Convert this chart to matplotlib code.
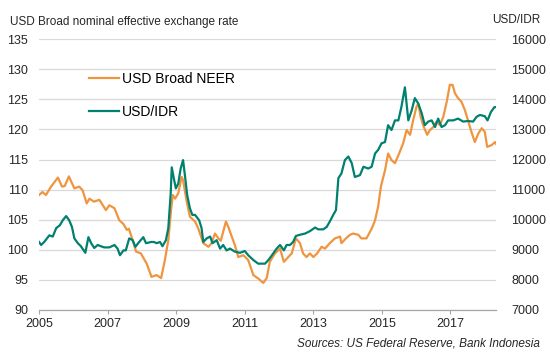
import numpy as np
import matplotlib
matplotlib.use("Agg")
import matplotlib.pyplot as plt

plt.rcParams["font.family"] = ["Liberation Sans", "DejaVu Sans"]

# USD Broad NEER (left axis)
neer_dates = [2005.0, 2005.1, 2005.2, 2005.35, 2005.55, 2005.67, 2005.75, 2005.87, 2006.03, 2006.17,
              2006.27, 2006.39, 2006.47, 2006.6, 2006.76, 2006.95, 2007.05, 2007.2, 2007.34, 2007.46,
              2007.56, 2007.62, 2007.73, 2007.83, 2007.97, 2008.14, 2008.28, 2008.43, 2008.56, 2008.67,
              2008.77, 2008.85, 2008.9, 2008.97, 2009.06, 2009.16, 2009.2, 2009.3, 2009.4, 2009.55,
              2009.64, 2009.79, 2009.94, 2010.03, 2010.13, 2010.23, 2010.3, 2010.45, 2010.52, 2010.62,
              2010.71, 2010.81, 2010.96, 2011.1, 2011.25, 2011.4, 2011.54, 2011.64, 2011.73, 2011.88,
              2012.03, 2012.14, 2012.27, 2012.37, 2012.49, 2012.61, 2012.7, 2012.8, 2012.9, 2013.0,
              2013.11, 2013.24, 2013.34, 2013.48, 2013.63, 2013.78, 2013.82, 2013.95, 2014.07, 2014.16,
              2014.31, 2014.4, 2014.55, 2014.7, 2014.8, 2014.89, 2014.97, 2015.09, 2015.18, 2015.28,
              2015.38, 2015.48, 2015.62, 2015.72, 2015.82, 2015.91, 2016.01, 2016.06, 2016.13, 2016.2,
              2016.32, 2016.4, 2016.5, 2016.59, 2016.69, 2016.79, 2016.89, 2016.98, 2017.06, 2017.13,
              2017.22, 2017.32, 2017.42, 2017.51, 2017.61, 2017.71, 2017.81, 2017.91, 2018.0, 2018.07,
              2018.2, 2018.3, 2018.33]
neer = [109.1, 109.6, 109.1, 110.5, 112.0, 110.5, 110.6, 112.2, 110.2, 110.5,
        109.9, 107.7, 108.5, 108.0, 108.3, 106.6, 107.4, 106.9, 104.9, 104.3,
        103.3, 103.5, 101.6, 99.7, 99.4, 97.7, 95.5, 95.8, 95.3, 98.3,
        101.6, 106.6, 109.1, 108.5, 109.4, 112.1, 111.6, 108.2, 105.5, 104.7,
        103.6, 101.1, 100.5, 101.1, 102.7, 101.9, 101.5, 104.7, 103.8, 102.2,
        100.8, 98.8, 99.1, 98.3, 95.8, 95.2, 94.5, 95.3, 98.0, 99.4,
        100.2, 98.0, 98.8, 99.4, 101.9, 101.1, 99.4, 98.8, 99.4, 98.8,
        99.4, 100.5, 100.2, 101.1, 101.9, 102.2, 101.1, 101.9, 102.5, 102.7,
        102.5, 101.9, 101.9, 103.5, 104.9, 107.2, 110.5, 113.2, 116.0, 114.9,
        114.4, 115.7, 117.7, 119.9, 119.1, 121.5, 123.8, 124.3, 122.1, 120.7,
        119.1, 119.9, 120.4, 121.3, 120.7, 122.1, 124.6, 127.4, 127.4, 126.0,
        125.2, 124.6, 123.2, 121.5, 119.6, 117.9, 119.3, 120.2, 119.6, 117.1,
        117.4, 117.9, 117.6]

# USD/IDR (right axis)
idr_dates = [2005.0, 2005.06, 2005.15, 2005.3, 2005.4, 2005.5, 2005.61, 2005.69, 2005.79, 2005.88,
             2005.96, 2006.03, 2006.13, 2006.22, 2006.35, 2006.44, 2006.52, 2006.61, 2006.71, 2006.8,
             2006.9, 2007.05, 2007.2, 2007.29, 2007.36, 2007.46, 2007.53, 2007.63, 2007.73, 2007.81,
             2007.92, 2008.04, 2008.12, 2008.27, 2008.35, 2008.43, 2008.53, 2008.6, 2008.7, 2008.77,
             2008.84, 2008.87, 2008.94, 2008.99, 2009.06, 2009.13, 2009.2, 2009.26, 2009.32, 2009.4,
             2009.47, 2009.55, 2009.67, 2009.74, 2009.79, 2009.89, 2009.99, 2010.06, 2010.18, 2010.28,
             2010.37, 2010.47, 2010.57, 2010.71, 2010.86, 2011.0, 2011.1, 2011.25, 2011.39, 2011.59,
             2011.69, 2011.78, 2011.93, 2012.03, 2012.14, 2012.22, 2012.32, 2012.41, 2012.49, 2012.61,
             2012.76, 2012.9, 2013.05, 2013.14, 2013.29, 2013.39, 2013.48, 2013.58, 2013.66, 2013.73,
             2013.82, 2013.92, 2014.02, 2014.12, 2014.21, 2014.36, 2014.46, 2014.6, 2014.7, 2014.8,
             2014.89, 2014.99, 2015.09, 2015.18, 2015.28, 2015.38, 2015.48, 2015.57, 2015.67, 2015.77,
             2015.87, 2015.96, 2016.06, 2016.16, 2016.25, 2016.35, 2016.45, 2016.55, 2016.64, 2016.74,
             2016.84, 2016.93, 2017.08, 2017.22, 2017.37, 2017.51, 2017.66, 2017.76, 2017.86, 2018.0,
             2018.08, 2018.18, 2018.28, 2018.33]
idr = [9260, 9160, 9260, 9480, 9440, 9720, 9820, 9980, 10120, 9980,
       9760, 9380, 9220, 9120, 8900, 9420, 9220, 9060, 9160, 9120,
       9080, 9080, 9160, 9040, 8820, 8980, 8980, 9380, 9320, 9100,
       9260, 9420, 9220, 9260, 9260, 9220, 9260, 9120, 9320, 9720,
       10880, 11740, 11320, 11040, 11200, 11700, 11980, 11420, 10820, 10380,
       10160, 10160, 9980, 9720, 9260, 9380, 9440, 9220, 9320, 9040,
       9160, 8980, 9040, 8940, 8900, 8960, 8820, 8660, 8540, 8540,
       8660, 8800, 9040, 9160, 8980, 9160, 9160, 9260, 9460, 9500,
       9540, 9620, 9740, 9680, 9680, 9760, 9940, 10160, 10320, 11380,
       11540, 11980, 12100, 11880, 11420, 11480, 11760, 11700, 11760, 12200,
       12320, 12540, 12580, 13140, 12980, 13300, 13300, 13760, 14400, 13300,
       13640, 14040, 13860, 13540, 13140, 13260, 13300, 13080, 13360, 13080,
       13140, 13300, 13300, 13360, 13260, 13280, 13260, 13420, 13480, 13440,
       13300, 13580, 13740, 13740]

year_ticks = [2005, 2007, 2009, 2011, 2013, 2015, 2017]

orange = "#F0953F"
teal = "#00806F"
grey_text = "#262626"

fig = plt.figure(figsize=(5.5, 3.59), dpi=100)
ax = fig.add_axes([0.071, 0.1365, 0.831, 0.7545])
ax2 = ax.twinx()

l1, = ax.plot(neer_dates, neer, color=orange, lw=1.6, label="USD Broad NEER", zorder=3)
l2, = ax2.plot(idr_dates, idr, color=teal, lw=1.6, label="USD/IDR", zorder=4)

ax.set_xlim(2005, 2018.33)
ax.set_ylim(90, 135)
ax2.set_ylim(7000, 16000)
ax.set_yticks(np.arange(90, 136, 5))
ax2.set_yticks(np.arange(7000, 16001, 1000))
ax.set_xticks(year_ticks)
ax.set_xticklabels([str(y) for y in year_ticks])

for a in (ax, ax2):
    for s in a.spines.values():
        s.set_visible(False)
ax.spines["bottom"].set_visible(True)
ax.spines["bottom"].set_color("#A6A6A6")
ax.spines["bottom"].set_linewidth(0.9)

ax.grid(axis="y", color="#D9D9D9", lw=0.9)
ax.set_axisbelow(True)
ax.tick_params(axis="y", length=0, pad=8, labelsize=9, labelcolor=grey_text)
ax2.tick_params(axis="y", length=0, pad=11, labelsize=9, labelcolor=grey_text)
ax.tick_params(axis="x", length=3, color="#A6A6A6", pad=3, labelsize=9, labelcolor=grey_text)

fig.text(0.018, 0.94, "USD Broad nominal effective exchange rate", fontsize=8.5, color=grey_text,
         va="center")
fig.text(0.982, 0.945, "USD/IDR", fontsize=8.5, color=grey_text, va="center", ha="right")
fig.text(0.982, 0.042, "Sources: US Federal Reserve, Bank Indonesia", fontsize=8.5, style="italic",
         color=grey_text, ha="right", va="center")

ax.legend(handles=[l1, l2], loc="upper left", bbox_to_anchor=(0.097, 0.9), frameon=False,
          fontsize=10, handlelength=2.2, handletextpad=0.2, labelspacing=1.35, borderaxespad=0)

fig.savefig("out.png", dpi=100)
